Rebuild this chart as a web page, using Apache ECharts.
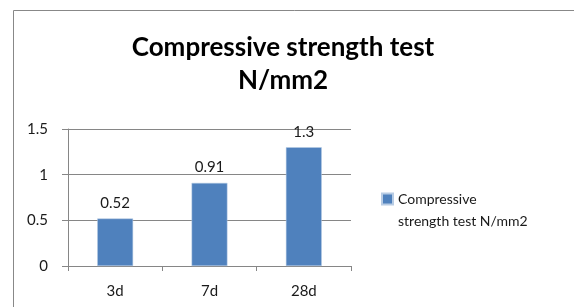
<!DOCTYPE html>
<html>
<head>
<meta charset="utf-8">
<script src="https://cdn.jsdelivr.net/npm/echarts@6/dist/echarts.min.js"></script>
<style>
  html, body { margin: 0; padding: 0; background: #fff; }
  #chart { width: 574px; height: 307px; }
</style>
</head>
<body>
<div id="chart"></div>
<script>
const categories = ['3d', '7d', '28d'];
const strengthValues = [0.52, 0.91, 1.3];
const seriesName = 'Compressive strength test N/mm2';
const yTicks = [0, 0.5, 1, 1.5];

const chart = echarts.init(document.getElementById('chart'));
const font = 'Lato, "Open Sans", sans-serif';

chart.setOption({
    animation: false,
    textStyle: { fontFamily: font },
    graphic: [{
        type: 'rect',
        shape: { x: 13.5, y: 10.5, width: 600, height: 320 },
        style: { fill: 'none', stroke: '#888', lineWidth: 1 }
    }],
    title: {
        text: 'Compressive strength test\nN/mm2',
        left: 278,
        top: 26,
        textAlign: 'center',
        textStyle: { fontFamily: font, fontWeight: 'bold', fontSize: 26, lineHeight: 33, color: '#000' }
    },
    grid: { left: 68, right: 223, top: 129, bottom: 41 },
    legend: {
        left: 381,
        top: 166,
        padding: 0,
        itemWidth: 11,
        itemHeight: 11,
        icon: 'rect',
        // leading blank line keeps the marker level with the first text line
        formatter: () => ' \nCompressive\nstrength test N/mm2',
        textStyle: { fontFamily: font, fontSize: 14, lineHeight: 22, color: '#1a1a1a' },
        data: [seriesName]
    },
    xAxis: {
        type: 'category',
        data: categories,
        axisLine: { lineStyle: { color: '#868686' } },
        axisTick: { show: true, length: 5, lineStyle: { color: '#868686' } },
        axisLabel: { color: '#1a1a1a', fontSize: 15, margin: 18 }
    },
    yAxis: {
        type: 'value',
        min: yTicks[0],
        max: yTicks[yTicks.length - 1],
        interval: 0.5,
        axisLine: { show: true, lineStyle: { color: '#868686' } },
        axisTick: { show: true, length: 6, lineStyle: { color: '#868686' } },
        splitLine: { lineStyle: { color: '#868686' } },
        axisLabel: { color: '#1a1a1a', fontSize: 15, margin: 20 }
    },
    series: [{
        name: seriesName,
        type: 'bar',
        data: strengthValues,
        barCategoryGap: '62%',
        itemStyle: { color: '#4F81BD', borderColor: '#b8cce4', borderWidth: 0.5 },
        label: { show: true, position: 'top', distance: 8, color: '#1a1a1a', fontSize: 15, fontFamily: font }
    }]
});
</script>
</body>
</html>
